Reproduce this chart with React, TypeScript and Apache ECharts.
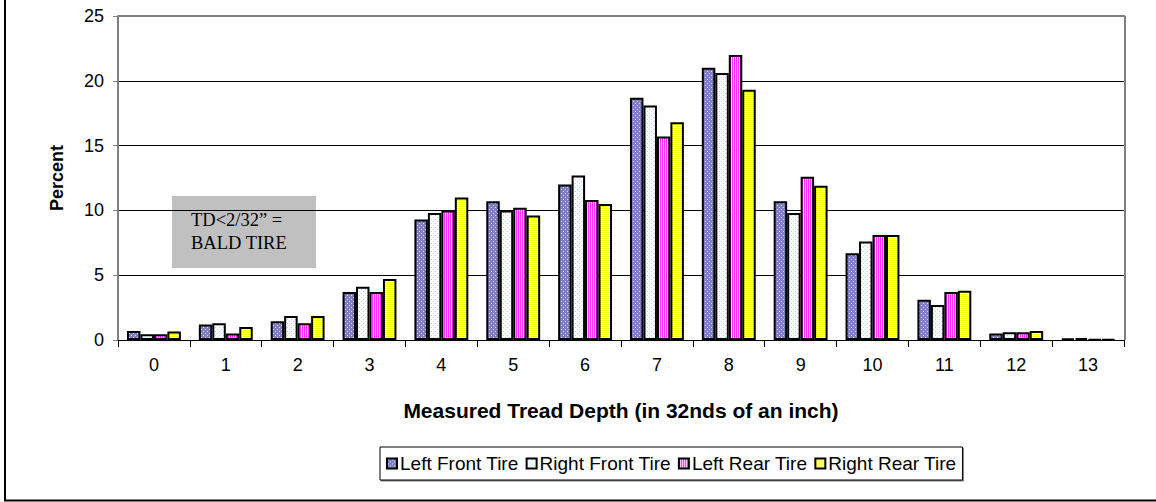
import React, { useEffect, useRef } from "react";
import * as echarts from "echarts";

const categories = ["0", "1", "2", "3", "4", "5", "6", "7", "8", "9", "10", "11", "12", "13"];
const seriesNames = ["Left Front Tire", "Right Front Tire", "Left Rear Tire", "Right Rear Tire"];
const leftFront = [0.7, 1.2, 1.45, 3.7, 9.3, 10.7, 12.0, 18.7, 21.0, 10.7, 6.7, 3.1, 0.5, 0.1];
const rightFront = [0.45, 1.3, 1.85, 4.1, 9.8, 10.0, 12.7, 18.1, 20.6, 9.8, 7.6, 2.7, 0.6, 0.15];
const leftRear = [0.45, 0.5, 1.3, 3.7, 10.0, 10.2, 10.8, 15.7, 22.0, 12.6, 8.1, 3.7, 0.6, 0.05];
const rightRear = [0.65, 1.0, 1.85, 4.7, 11.0, 9.6, 10.5, 16.8, 19.3, 11.9, 8.1, 3.8, 0.7, 0.05];
const yMin = 0;
const yMax = 25;
const yInterval = 5;
const annotationLines = ["TD<2/32\u201d =", "BALD TIRE"];
const xTitle = "Measured Tread Depth (in 32nds of an inch)";
const yTitle = "Percent";

const W = 1156;
const H = 502;
const GRID = { left: 118, right: 32, top: 16, bottom: 162 };
const SANS = "'Liberation Sans', Arial, sans-serif";
const SERIF = "'Liberation Serif', 'Times New Roman', serif";

function makePattern(kind: string) {
  const c = document.createElement("canvas");
  const ctx = c.getContext("2d") as CanvasRenderingContext2D;
  if (kind === "lf") {
    c.width = 4; c.height = 4;
    ctx.fillStyle = "#7e7ec0"; ctx.fillRect(0, 0, 4, 4);
    ctx.fillStyle = "#e4e4f6"; ctx.fillRect(1, 1, 1, 1); ctx.fillRect(3, 3, 1, 1);
  } else if (kind === "rf") {
    c.width = 4; c.height = 4;
    ctx.fillStyle = "#ffffff"; ctx.fillRect(0, 0, 4, 4);
    ctx.fillStyle = "#7ff0f0"; ctx.fillRect(1, 1, 1, 1); ctx.fillRect(3, 3, 1, 1);
  } else if (kind === "lr") {
    c.width = 2; c.height = 2;
    ctx.fillStyle = "#ff30ff"; ctx.fillRect(0, 0, 1, 2);
    ctx.fillStyle = "#ffd0ff"; ctx.fillRect(1, 0, 1, 2);
  } else {
    c.width = 2; c.height = 2;
    ctx.fillStyle = "#ffff00"; ctx.fillRect(0, 0, 2, 1);
    ctx.fillStyle = "#ffffd0"; ctx.fillRect(0, 1, 2, 1);
  }
  return { image: c, repeat: "repeat", imageWidth: c.width, imageHeight: c.height } as any;
}

export default function App() {
  const ref = useRef<HTMLDivElement>(null);
  useEffect(() => {
    document.body.style.margin = "0";
    if (!ref.current) return;
    const chart = echarts.init(ref.current, null, { renderer: "svg" });
    const patterns = [makePattern("lf"), makePattern("rf"), makePattern("lr"), makePattern("rr")];
    const datas = [leftFront, rightFront, leftRear, rightRear];
    const plotRight = W - GRID.right;
    const plotBottom = H - GRID.bottom;
    chart.setOption({
      animation: false,
      backgroundColor: "#ffffff",
      textStyle: { fontFamily: SANS },
      grid: { left: GRID.left, right: GRID.right, top: GRID.top, bottom: GRID.bottom, containLabel: false },
      legend: {
        data: seriesNames,
        left: 380,
        top: 447,
        orient: "horizontal",
        icon: "rect",
        itemWidth: 10,
        itemHeight: 10,
        itemGap: 7,
        padding: [7, 6, 7, 6],
        borderColor: "#000",
        borderWidth: 1,
        backgroundColor: "#fff",
        shadowColor: "rgba(0,0,0,0.5)",
        shadowOffsetX: 1,
        shadowOffsetY: 1,
        itemStyle: { borderColor: "#000", borderWidth: 2 },
        textStyle: { fontFamily: SANS, fontSize: 19, color: "#000", padding: [0, 0, 0, -2] },
      },
      xAxis: {
        type: "category",
        data: categories,
        boundaryGap: true,
        name: xTitle,
        nameLocation: "middle",
        nameGap: 60,
        nameTextStyle: { fontFamily: SANS, fontSize: 21, fontWeight: "bold", color: "#000" },
        axisLine: { lineStyle: { color: "#000", width: 1 } },
        axisTick: { show: true, length: 7, lineStyle: { color: "#000" } },
        axisLabel: { color: "#000", fontSize: 18, fontFamily: SANS, margin: 16 },
        splitLine: { show: false },
      },
      yAxis: {
        type: "value",
        min: yMin,
        max: yMax,
        interval: yInterval,
        name: yTitle,
        nameLocation: "middle",
        nameGap: 52,
        nameTextStyle: { fontFamily: SANS, fontSize: 18, fontWeight: "bold", color: "#000" },
        axisLine: { show: true, lineStyle: { color: "#808080", width: 2 } },
        axisTick: { show: true, length: 5, lineStyle: { color: "#808080" } },
        axisLabel: { color: "#000", fontSize: 18, fontFamily: SANS, margin: 14 },
        splitLine: { show: true, lineStyle: { color: "#000", width: 1 } },
      },
      series: seriesNames.map((name, i) => ({
        name,
        type: "bar",
        data: datas[i],
        barGap: "0%",
        barCategoryGap: "25%",
        itemStyle: { color: patterns[i], borderColor: "#000", borderWidth: 2 },
      })),
      graphic: [
        {
          type: "line",
          z: 100,
          shape: { x1: GRID.left, y1: GRID.top, x2: plotRight + 1, y2: GRID.top },
          style: { stroke: "#808080", lineWidth: 2 },
        },
        {
          type: "line",
          z: 100,
          shape: { x1: plotRight + 1, y1: GRID.top, x2: plotRight + 1, y2: plotBottom },
          style: { stroke: "#808080", lineWidth: 2 },
        },
        {
          type: "line",
          z: 100,
          shape: { x1: 5, y1: 0, x2: 5, y2: 501 },
          style: { stroke: "#000", lineWidth: 2 },
        },
        {
          type: "line",
          z: 100,
          shape: { x1: 4, y1: 500.5, x2: W, y2: 500.5 },
          style: { stroke: "#000", lineWidth: 2 },
        },
        {
          type: "group",
          left: 172,
          top: 196,
          z: 100,
          children: [
            {
              type: "rect",
              shape: { x: 0, y: 0, width: 144, height: 72 },
              style: { fill: "#c0c0c0" },
            },
            {
              type: "text",
              x: 19,
              y: 12,
              style: {
                text: annotationLines.join("\n"),
                font: "18.5px " + SERIF,
                fill: "#000",
                lineHeight: 23,
              },
            },
          ],
        },
      ],
    });
    return () => chart.dispose();
  }, []);
  return <div ref={ref} style={{ width: W, height: H }} />;
}
